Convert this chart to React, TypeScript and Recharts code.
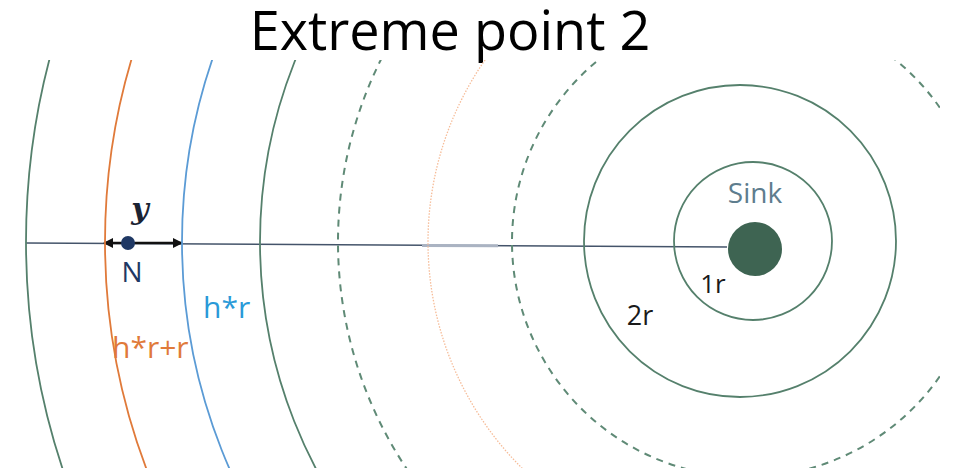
import React from 'react'
import { ScatterChart, Scatter, XAxis, YAxis, ZAxis, ReferenceLine } from 'recharts'

// ─── Data ─────────────────────────────────────────────────────────────────────

// concentric rings around the sink (picture units, x right / y down)
const ringNames = ['1r', '2r', 'ring3', 'ring4', 'ring5', 'ring6', 'h*r', 'h*r+r', 'ring9']
const ringCenterX = [753, 740, 747, 747, 747, 747, 747, 747, 747]
const ringCenterY = [241, 241, 242, 242, 242, 242, 242, 242, 242]
const ringRadius = [79, 156, 235, 319, 409, 487, 565, 642, 721]
const ringKind = ['solid', 'solid', 'dashed', 'dotted', 'dashed', 'solid', 'blue', 'orange', 'solid']

const sinkPoint = [{ x: 755, y: 249, r: 27 }]
const nodePoint = [{ x: 128, y: 243, r: 7 }]

const axisFrom = { x: 26, y: 243 }
const axisTo = { x: 727, y: 247 }
const arrowFrom = { x: 104, y: 243 }
const arrowTo = { x: 182, y: 243 }

// ─── Styles ───────────────────────────────────────────────────────────────────

const kindStyle: Record<string, React.SVGProps<SVGCircleElement>> = {
  solid: { stroke: '#55806c', strokeWidth: 1.8 },
  dashed: { stroke: '#5f8a76', strokeWidth: 2, strokeDasharray: '7 6' },
  dotted: { stroke: '#f6bc98', strokeWidth: 1.3, strokeDasharray: '1.5 1.5' },
  blue: { stroke: '#5b9bd5', strokeWidth: 1.8 },
  orange: { stroke: '#e07a3a', strokeWidth: 1.8 },
}

const rings = ringNames.map((name, i) => ({
  name,
  x: ringCenterX[i],
  y: ringCenterY[i],
  r: ringRadius[i],
  kind: ringKind[i],
}))

const radiusOf = (p: any) =>
  p.size != null ? p.size : Math.sqrt(((p.width / 2) ** 2) * Math.PI)

const ringShape = (style: React.SVGProps<SVGCircleElement>) => (p: any) =>
  <circle cx={p.cx} cy={p.cy} r={radiusOf(p)} fill="none" {...style} />

const dotShape = (fill: string) => (p: any) =>
  <circle cx={p.cx} cy={p.cy} r={radiusOf(p)} fill={fill} />

const labelFont = '"Open Sans", "DejaVu Sans", sans-serif'

// ─── Component ────────────────────────────────────────────────────────────────

export default function App() {
  return (
    <div style={{ position: 'absolute', left: 0, top: 0, background: '#fff' }}>
      <ScatterChart width={953} height={468} margin={{ top: 60, right: 13, bottom: 0, left: 0 }}>
        <defs>
          <marker id="arrowHead" viewBox="0 0 10 10" refX="9" refY="5" markerWidth="4" markerHeight="4" orient="auto-start-reverse">
            <path d="M0,0 L10,5 L0,10 z" fill="#111" />
          </marker>
        </defs>
        <XAxis type="number" dataKey="x" domain={[0, 940]} hide allowDataOverflow />
        <YAxis type="number" dataKey="y" domain={[60, 468]} reversed hide allowDataOverflow />
        <ZAxis type="number" dataKey="r" domain={[0, 1000]} range={[0, 1000]} />

        {Object.keys(kindStyle).map((kind) => (
          <Scatter
            key={kind}
            data={rings.filter((d) => d.kind === kind)}
            shape={ringShape(kindStyle[kind])}
            isAnimationActive={false}
          />
        ))}

        <ReferenceLine segment={[axisFrom, axisTo]} stroke="#44546a" strokeWidth={1.5} ifOverflow="visible" />
        <ReferenceLine
          segment={[{ x: 422, y: 245.4 }, { x: 498, y: 245.8 }]}
          stroke="#aab3c2"
          strokeWidth={3}
          ifOverflow="visible"
        />
        <ReferenceLine
          segment={[arrowFrom, arrowTo]}
          stroke="#111"
          strokeWidth={2.5}
          markerStart="url(#arrowHead)"
          markerEnd="url(#arrowHead)"
          ifOverflow="visible"
        />

        <Scatter data={sinkPoint} shape={dotShape('#3e6452')} isAnimationActive={false} />
        <Scatter data={nodePoint} shape={dotShape('#1f3864')} isAnimationActive={false} />

        <text x={450} y={50} textAnchor="middle" fontFamily={labelFont} fontSize={54} fill="#000">
          Extreme point 2
        </text>
        <text x={140} y={219} textAnchor="middle" fontFamily='"DejaVu Serif", serif' fontStyle="italic" fontWeight="bold" fontSize={30} fill="#1b2333">
          y
        </text>
        <text x={132} y={282} textAnchor="middle" fontFamily={labelFont} fontSize={28} fill="#1f3864">
          N
        </text>
        <text x={203} y={318} fontFamily={labelFont} fontSize={30} fill="#2a9ad8">
          h*r
        </text>
        <text x={112} y={358} fontFamily={labelFont} fontSize={30} fill="#e07a3a">
          h*r+r
        </text>
        <text x={755} y={203} textAnchor="middle" fontFamily={labelFont} fontSize={28} fill="#5e7d8e">
          Sink
        </text>
        <text x={713} y={293} textAnchor="middle" fontFamily={labelFont} fontSize={26} fill="#1a1a1a">
          1r
        </text>
        <text x={640} y={325} textAnchor="middle" fontFamily={labelFont} fontSize={27} fill="#1a1a1a">
          2r
        </text>
      </ScatterChart>
    </div>
  )
}
